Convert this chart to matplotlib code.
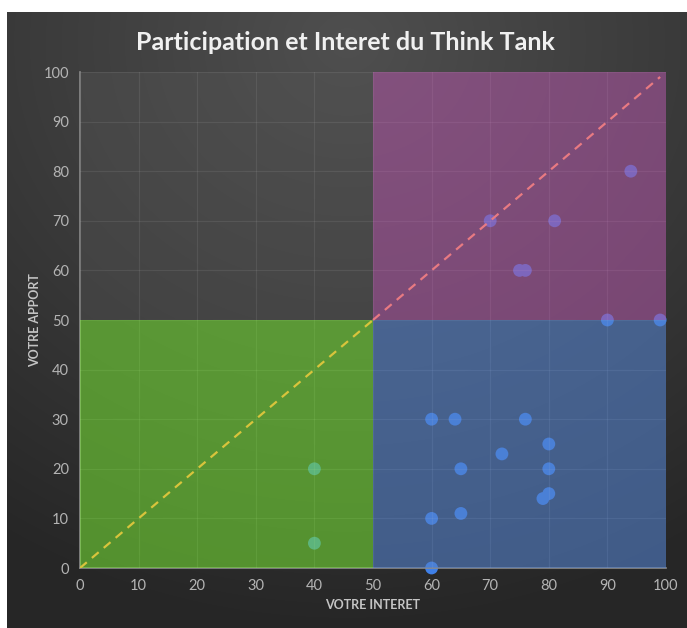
import numpy as np
import matplotlib.pyplot as plt
from matplotlib.patches import Rectangle

# donnees
interet_bleu = [60, 64, 76, 80, 72, 65, 80, 80, 79, 65, 60, 60]
apport_bleu = [30, 30, 30, 25, 23, 20, 20, 15, 14, 11, 10, 0]
interet_violet = [70, 81, 94, 75, 76, 90, 99]
apport_violet = [70, 70, 80, 60, 60, 50, 50]
interet_vert = [40, 40]
apport_vert = [20, 5]

ticks = list(range(0, 101, 10))

plt.rcParams['font.family'] = ['Lato', 'DejaVu Sans']

fig = plt.figure(figsize=(6.87, 6.28), dpi=100)
fig.patch.set_facecolor('white')

# fond sombre avec degrade radial
bg = fig.add_axes([7 / 687, 0, 680 / 687, 616 / 628])
h, w = 616, 680
yy, xx = np.mgrid[0:h, 0:w]
d = np.sqrt(((xx - w * 0.5) / w) ** 2 + ((yy - h * 0.05) / h) ** 2)
d = np.clip(d / 0.95, 0, 1)
v = 0.31 - 0.16 * d
bg.imshow(np.dstack([v, v, v]), aspect='auto', extent=[0, 1, 0, 1])
bg.set_axis_off()

ax = fig.add_axes([80 / 687, 60 / 628, 586 / 687, 496 / 628])
ax.patch.set_alpha(0)
ax.set_xlim(0, 100)
ax.set_ylim(0, 100)

pt_color = '#3f80e8'
ax.scatter(interet_bleu + interet_violet + interet_vert,
           apport_bleu + apport_violet + apport_vert,
           s=85, color=pt_color, zorder=2, edgecolors='none', clip_on=False)

# quadrants semi-transparents par-dessus les points
a = 0.6
ax.add_patch(Rectangle((0, 50), 50, 50, color='#555555', alpha=0.4, zorder=3, lw=0))
ax.add_patch(Rectangle((50, 50), 50, 50, color='#a8559f', alpha=a, zorder=3, lw=0))
ax.add_patch(Rectangle((0, 0), 50, 50, color='#72d834', alpha=a, zorder=3, lw=0))
ax.add_patch(Rectangle((50, 0), 50, 50, color='#5380ca', alpha=a, zorder=3, lw=0))

ax.plot([0, 50], [0, 50], ls='--', color='#d8c43c', lw=1.6, zorder=4, dashes=(4, 3))
ax.plot([50, 99], [50, 99], ls='--', color='#e87a82', lw=1.6, zorder=4, dashes=(4, 3))

ax.set_xticks(ticks)
ax.set_yticks(ticks)
ax.grid(True, color='white', alpha=0.12, lw=0.8, zorder=3.5)
ax.set_axisbelow(False)
ax.tick_params(length=0, colors='#b4b4b4', labelsize=10.5, pad=8)
for s in ['top', 'right']:
    ax.spines[s].set_visible(False)
for s in ['left', 'bottom']:
    ax.spines[s].set_color('#8a8a8a')
    ax.spines[s].set_linewidth(1.2)

ax.set_xlabel('VOTRE INTERET', color='#c4c4c4', fontsize=9, fontweight='bold')
ax.set_ylabel('VOTRE APPORT', color='#c4c4c4', fontsize=9, fontweight='bold')
ax.xaxis.set_label_coords(0.5, -0.063)
ax.yaxis.set_label_coords(-0.066, 0.5)

fig.text(0.503, 0.933, 'Participation et Interet du Think Tank', color='#f0f0f0',
         fontsize=18, fontweight='bold', ha='center', va='center')

fig.savefig('out.png', dpi=100)
